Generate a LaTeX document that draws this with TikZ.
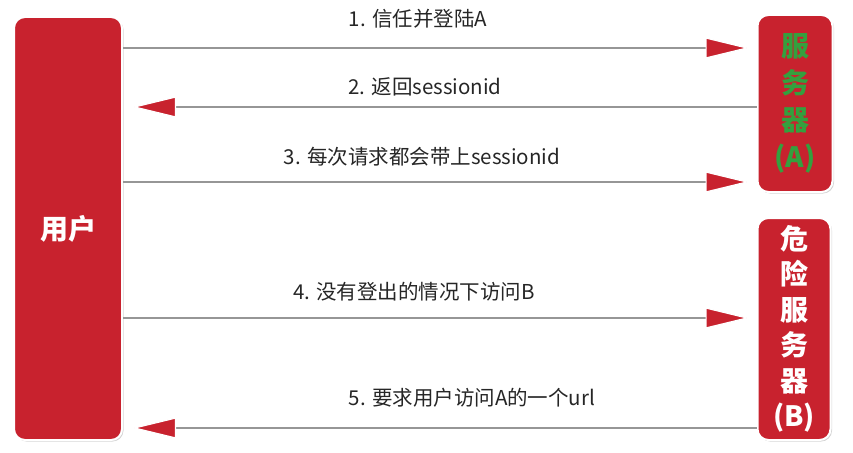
\documentclass[tikz,border=0pt]{standalone}
\usepackage{fontspec}
\setmainfont{Noto Sans CJK SC}
\usetikzlibrary{arrows.meta,shadows}
\definecolor{boxred}{RGB}{200,34,46}
\definecolor{srvgreen}{RGB}{52,160,62}
\definecolor{linegray}{RGB}{150,150,150}
\tikzset{
  redbox/.style={fill=boxred,draw=white,line width=2pt,rounded corners=11pt,
    drop shadow={shadow xshift=1.5pt,shadow yshift=-1.5pt,opacity=.35},
    align=center,inner sep=0pt,font=\bfseries\fontsize{28}{37}\selectfont},
  msg/.style={linegray,line width=1.3pt,
    -{Triangle[length=44pt,width=21pt,color=white,fill=boxred,line width=1.2pt]}},
  lbl/.style={font=\fontsize{20.5}{23}\selectfont,text=black!85}
}
\begin{document}
\begin{tikzpicture}[x=1pt,y=-1pt]
\useasboundingbox (0,0) rectangle (853,452);
% 三个方框
\node[redbox,minimum width=108pt,minimum height=423pt,text=white] (user) at (68,228.5) {用户};
\node[redbox,minimum width=75pt,minimum height=177pt,text=srvgreen] (srvA) at (795,103.5) {服\\务\\器\\(A)};
\node[redbox,minimum width=73pt,minimum height=222pt,text=white,
  font=\bfseries\fontsize{28}{35.5}\selectfont] (srvB) at (794,329) {危\\险\\服\\务\\器\\(B)};
% 请求与响应
\draw[msg,shorten >=7pt] (user.east |- 0,48) -- (srvA.west |- 0,48);
\node[lbl] (m1) at (418,19) {1. 信任并登陆A};
\draw[msg,shorten >=9pt] (srvA.west |- 0,107) -- (user.east |- 0,107);
\node[lbl] (m2) at (425,87) {2. 返回sessionid};
\draw[msg,shorten >=7pt] (user.east |- 0,182) -- (srvA.west |- 0,182);
\node[lbl] (m3) at (422,157) {3. 每次请求都会带上sessionid};
% 危险服务器
\draw[msg,shorten >=7pt] (user.east |- 0,318) -- (srvB.west |- 0,318);
\node[lbl] (m4) at (414,292) {4. 没有登出的情况下访问B};
\draw[msg,shorten >=9pt] (srvB.west |- 0,428) -- (user.east |- 0,428);
\node[lbl] (m5) at (472,398) {5. 要求用户访问A的一个url};
\end{tikzpicture}
\end{document}
